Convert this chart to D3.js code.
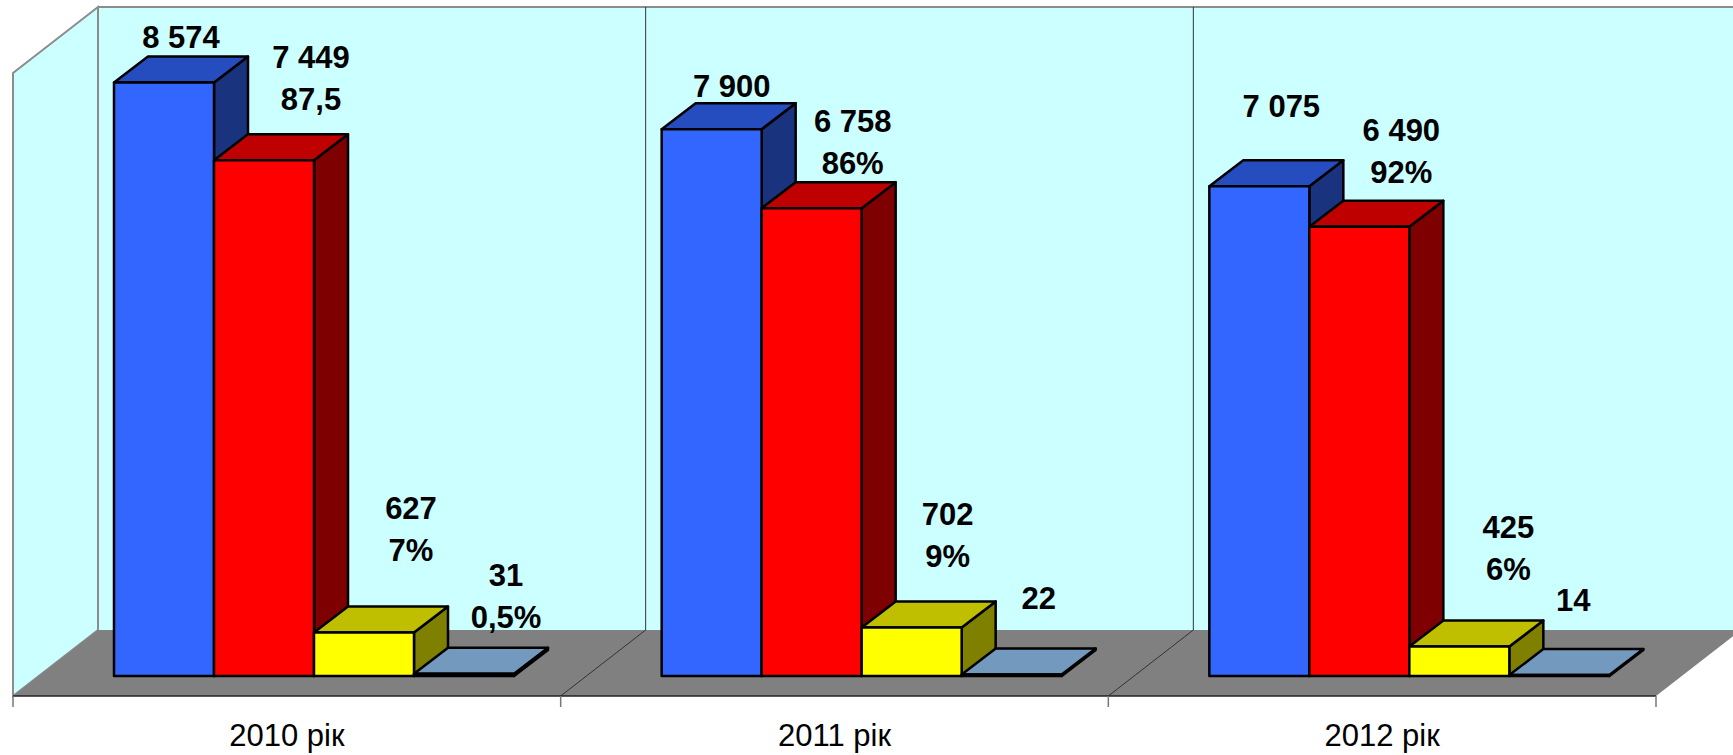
<!DOCTYPE html>
<html>
<head>
<meta charset="utf-8">
<script src="https://cdn.jsdelivr.net/npm/d3@7"></script>
<style>
  body { margin: 0; background: #fff; }
  svg { display: block; font-family: "Liberation Sans", Arial, sans-serif; }
</style>
</head>
<body>
<div id="chart"></div>
<script>
let years = ['2010 рік', '2011 рік', '2012 рік'];
let series = ['a', 'b', 'c', 'd'];

let blueValues = [8574, 7900, 7075];
let redValues = [7449, 6758, 6490];
let yellowValues = [627, 702, 425];
let steelValues = [31, 22, 14];
let allValues = [blueValues, redValues, yellowValues, steelValues];

// second line of the labels, as typed in the original
let redShares = ['87,5', '86%', '92%'];
let yellowShares = ['7%', '9%', '6%'];
let steelShares = ['0,5%', '', ''];
let allShares = [[], redShares, yellowShares, steelShares];

// labels were dragged by hand in the original: nudge from top of each bar
let nudgeX = [[0, 30, 30, 25], [3, 24, 19, 10], [5, 25, 32, -3]];
let nudgeY = [[-8, -24, -46, -20], [-6, -8, -34, -39], [-43, -18, -41, -38]];

let front = ['#3366ff', '#ff0000', '#ffff00', '#7399c6'];
let top3d = ['#264dbf', '#bf0000', '#bfbf00', '#7399bf'];
let side = ['#19337f', '#7f0000', '#7f7f00', '#395f80'];

let width = 1733;
let height = 755;

// plot box on the front plane
let left = 13, right = 1656, floorFront = 696, baseY = 676;
let wallDx = 85, wallDy = 66;
let depthX = 34, depthY = 26;

let y = d3.scaleLinear().domain([0, 9000]).range([baseY, baseY - 623]);
let x0 = d3.scaleBand().domain(years).range([left, right]);
let x1 = d3.scaleBand().domain(series).range([101, 501]);

let fmt = d3.formatLocale({ decimal: ',', thousands: ' ', grouping: [3], currency: ['', ''] }).format(',d');

let svg = d3.select('#chart').append('svg')
  .attr('width', width)
  .attr('height', height);

let poly = (pts) => pts.map((p) => p.join(',')).join(' ');

let wallTop = y(9000) + (floorFront - baseY);
let backX = left + wallDx;
let backTop = wallTop - wallDy;
let backBottom = floorFront - wallDy;
let backRight = right + wallDx;

// walls
svg.append('polygon')
  .attr('points', poly([[backX, backTop], [backRight, backTop], [backRight, backBottom], [backX, backBottom]]))
  .attr('fill', '#ccffff');
svg.append('polygon')
  .attr('points', poly([[left, wallTop], [backX, backTop], [backX, backBottom], [left, floorFront]]))
  .attr('fill', '#ccffff')
  .attr('stroke', '#8c8c8c')
  .attr('stroke-width', 2);
svg.append('line')
  .attr('x1', backX).attr('x2', backRight).attr('y1', backTop).attr('y2', backTop)
  .attr('stroke', '#8c8c8c').attr('stroke-width', 2);

// floor
svg.append('polygon')
  .attr('points', poly([[left, floorFront], [backX, backBottom], [backRight, backBottom], [right, floorFront]]))
  .attr('fill', '#808080');

// dividers on the wall and floor between the years
let edges = years.slice(1).map((d) => x0(d));
svg.selectAll('.divider')
  .data(edges)
  .enter()
  .append('polyline')
  .attr('class', 'divider')
  .attr('points', (d) => poly([[d, floorFront], [d + wallDx, backBottom], [d + wallDx, backTop]]))
  .attr('fill', 'none')
  .attr('stroke', '#333')
  .attr('stroke-width', 1);

// front edge + ticks at the category boundaries
svg.append('line')
  .attr('x1', left).attr('x2', right).attr('y1', floorFront).attr('y2', floorFront)
  .attr('stroke', '#222').attr('stroke-width', 1.5);
svg.selectAll('.tick-mark')
  .data(years.map((d) => x0(d)).concat([right]))
  .enter()
  .append('line')
  .attr('class', 'tick-mark')
  .attr('x1', (d) => d).attr('x2', (d) => d)
  .attr('y1', floorFront).attr('y2', floorFront + 11)
  .attr('stroke', '#777').attr('stroke-width', 1.5);

// bars
let bars = [];
years.forEach((year, g) => {
  series.forEach((s, i) => {
    bars.push({ g: g, i: i, value: allValues[i][g], share: allShares[i][g] || '', x: x0(year) + x1(s), w: x1.bandwidth() });
  });
});

let bar = svg.selectAll('.bar')
  .data(bars)
  .enter()
  .append('g')
  .attr('class', 'bar')
  .attr('stroke', '#000')
  .attr('stroke-width', 2.5)
  .attr('stroke-linejoin', 'round');

bar.append('polygon')
  .attr('points', (d) => poly([[d.x + d.w, y(d.value)], [d.x + d.w + depthX, y(d.value) - depthY], [d.x + d.w + depthX, y(0) - depthY], [d.x + d.w, y(0)]]))
  .attr('fill', (d) => side[d.i]);
bar.append('polygon')
  .attr('points', (d) => poly([[d.x, y(d.value)], [d.x + depthX, y(d.value) - depthY], [d.x + d.w + depthX, y(d.value) - depthY], [d.x + d.w, y(d.value)]]))
  .attr('fill', (d) => top3d[d.i]);
bar.append('rect')
  .attr('x', (d) => d.x)
  .attr('y', (d) => y(d.value))
  .attr('width', (d) => d.w)
  .attr('height', (d) => y(0) - y(d.value))
  .attr('fill', (d) => front[d.i]);

// value labels
let labels = svg.selectAll('.label')
  .data(bars)
  .enter()
  .append('text')
  .attr('class', 'label')
  .attr('text-anchor', 'middle')
  .attr('font-size', 31)
  .attr('font-weight', 'bold')
  .attr('fill', '#000');

labels.each(function(d) {
  let cx = d.x + d.w / 2 + depthX / 2 + nudgeX[d.g][d.i];
  let last = y(d.value) - depthY + nudgeY[d.g][d.i];
  let t = d3.select(this);
  if (d.share != '') {
    t.append('tspan').attr('x', cx).attr('y', last - 42).text(fmt(d.value));
    t.append('tspan').attr('x', cx).attr('y', last).text(d.share);
  } else {
    t.append('tspan').attr('x', cx).attr('y', last).text(fmt(d.value));
  }
});

// year labels
let axis = svg.append('g')
  .attr('transform', 'translate(0,' + floorFront + ')')
  .call(d3.axisBottom(x0).tickSize(0));
axis.select('.domain').remove();
axis.selectAll('text')
  .attr('y', 50)
  .attr('dy', 0)
  .attr('font-size', 31)
  .attr('font-family', '"Liberation Sans", Arial, sans-serif')
  .attr('fill', '#000');
</script>
</body>
</html>
